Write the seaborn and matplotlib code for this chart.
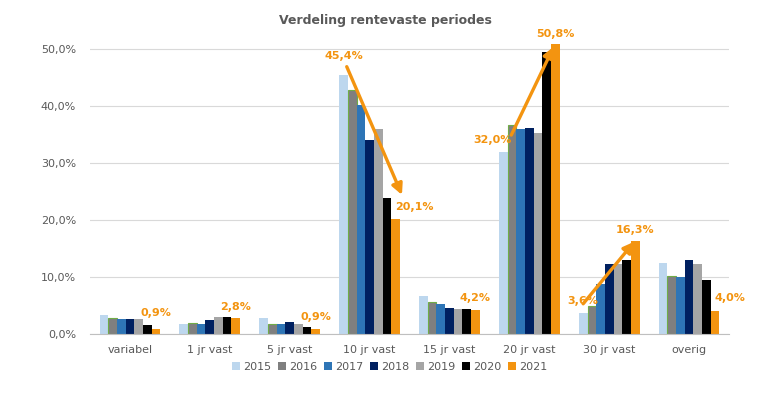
import pandas as pd
import seaborn as sns
import matplotlib.pyplot as plt
from matplotlib.ticker import FuncFormatter

categorieen = ['variabel', '1 jr vast', '5 jr vast', '10 jr vast', '15 jr vast',
               '20 jr vast', '30 jr vast', 'overig']
jaren = ['2015', '2016', '2017', '2018', '2019', '2020', '2021']

v2015 = [3.3, 1.8, 2.8, 45.4, 6.7, 32.0, 3.6, 12.5]
v2016 = [2.8, 2.0, 1.7, 42.8, 5.6, 36.7, 4.9, 10.2]
v2017 = [2.6, 1.8, 1.8, 40.2, 5.2, 36.0, 8.8, 10.0]
v2018 = [2.6, 2.5, 2.1, 34.0, 4.5, 36.2, 12.2, 13.0]
v2019 = [2.6, 3.0, 1.8, 36.0, 4.4, 35.3, 12.2, 12.2]
v2020 = [1.6, 3.0, 1.3, 23.9, 4.4, 49.5, 12.9, 9.5]
v2021 = [0.9, 2.8, 0.9, 20.1, 4.2, 50.8, 16.3, 4.0]

kleuren = ['#BDD7EE', '#7F7F7F', '#2E75B6', '#002060', '#A5A5A5', '#000000', '#F39410']
oranje = '#F39410'
grijs = '#595959'

reeksen = [v2015, v2016, v2017, v2018, v2019, v2020, v2021]
df = pd.DataFrame([
    {'categorie': c, 'jaar': j, 'waarde': r[i]}
    for j, r in zip(jaren, reeksen)
    for i, c in enumerate(categorieen)
])

fig = plt.figure(figsize=(7.63, 3.98), dpi=100)
ax = fig.add_axes([90 / 763, 64 / 398, 639 / 763, 296.4 / 398])

breedte = 0.76
sns.barplot(data=df, x='categorie', y='waarde', hue='jaar', order=categorieen,
            hue_order=jaren, palette=kleuren, width=breedte, ax=ax,
            linewidth=0, saturation=1, legend=True)

# groene rand om 2016
for bar in ax.containers[1]:
    bar.set_edgecolor('#70AD47')
    bar.set_linewidth(0.8)

ax.set_ylim(0, 52)
ax.set_xlim(-0.5, 7.5)
ax.set_yticks([0, 10, 20, 30, 40, 50])
ax.yaxis.set_major_formatter(FuncFormatter(lambda v, p: f"{v:.1f}%".replace('.', ',')))
ax.grid(axis='y', color='#D9D9D9', linewidth=0.8)
ax.set_axisbelow(True)
for s in ['top', 'right', 'left']:
    ax.spines[s].set_visible(False)
ax.spines['bottom'].set_color('#BFBFBF')
ax.tick_params(length=0, labelsize=8, colors=grijs)
ax.tick_params(axis='x', pad=8)
ax.tick_params(axis='y', pad=10)
ax.set_xlabel('')
ax.set_ylabel('')

handles, labels = ax.get_legend_handles_labels()
ax.get_legend().remove()
fig.legend(handles, labels, loc='center', bbox_to_anchor=(390 / 763, 1 - 366.5 / 398),
           ncol=7, frameon=False, fontsize=8, handlelength=0.7, handleheight=0.7,
           handletextpad=0.3, columnspacing=0.6, labelcolor=grijs)

fig.text(385 / 763, 1 - 20.5 / 398, 'Verdeling rentevaste periodes', ha='center',
         va='center', fontsize=9, fontweight='bold', color=grijs)

stap = breedte / 7
def pos(i, j):
    return i + (j - 3) * stap

def pct(v):
    return f"{v:.1f}%".replace('.', ',')

# labels boven de balken: (categorie, jaarindex, dx, dy)
labels_pos = [(0, 6, 0.0, 2.8), (1, 6, 0.0, 2.0), (2, 6, 0.0, 2.1), (3, 0, 0.0, 3.3),
              (3, 6, 0.24, 2.1), (4, 6, 0.0, 2.1), (5, 0, -0.14, 2.0), (5, 6, 0.0, 1.8),
              (6, 0, 0.0, 2.2), (6, 6, 0.0, 1.9), (7, 6, 0.19, 2.3)]
for i, j, dx, dy in labels_pos:
    v = reeksen[j][i]
    ax.text(pos(i, j) + dx, v + dy, pct(v), ha='center', va='center', fontsize=8,
            fontweight='bold', color=oranje, clip_on=False)

# pijlen van 2015 naar 2021
pijlen = [(3, 0.04, 1.5, 0.08, 4.3), (5, 0.10, 2.9, -0.02, -0.4), (6, 0.0, 1.7, -0.01, -0.1)]
for i, dx0, dy0, dx1, dy1 in pijlen:
    ax.annotate('', xy=(pos(i, 6) + dx1, v2021[i] + dy1),
                xytext=(pos(i, 0) + dx0, v2015[i] + dy0),
                arrowprops=dict(arrowstyle='-|>', color=oranje, lw=2.4,
                                mutation_scale=16, shrinkA=0, shrinkB=0))

plt.savefig('out.png', dpi=100)
